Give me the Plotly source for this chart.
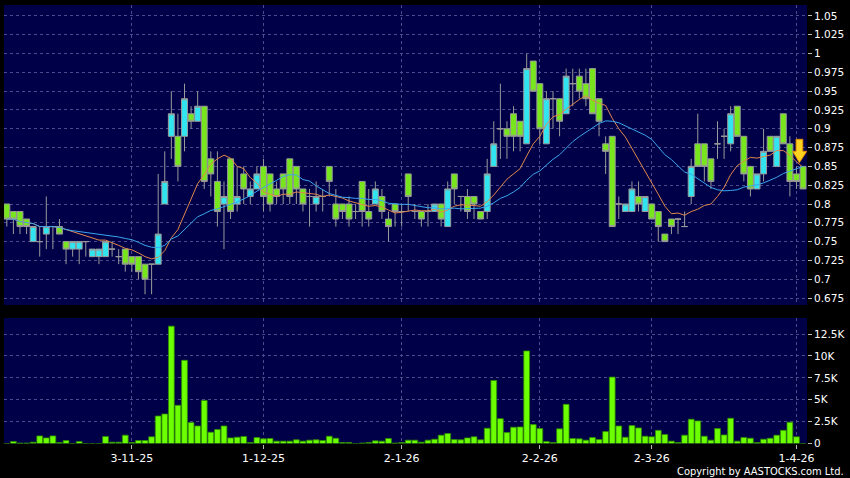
import pandas as pd
import plotly.graph_objects as go

# ---------------- data ----------------
holidays = ["2025-10-07", "2025-10-29", "2025-12-25", "2025-12-26", "2026-01-01",
            "2026-02-17", "2026-02-18", "2026-02-19"]
dates = [d.strftime("%Y-%m-%d") for d in pd.bdate_range("2025-10-03", "2026-04-02")
         if d.strftime("%Y-%m-%d") not in holidays]

opens = [
    0.80, 0.79, 0.79, 0.78, 0.75, 0.75, 0.76, 0.77, 0.77, 0.75,
    0.74, 0.74, 0.75, 0.73, 0.73, 0.73, 0.74, 0.73, 0.74, 0.73,
    0.73, 0.72, 0.72, 0.72, 0.80, 0.89, 0.89, 0.89, 0.92, 0.91,
    0.93, 0.86, 0.83, 0.80, 0.86, 0.80, 0.84, 0.81, 0.82, 0.85,
    0.84, 0.82, 0.84, 0.86, 0.85, 0.82, 0.81, 0.80, 0.81, 0.85,
    0.80, 0.80, 0.80, 0.79, 0.83, 0.79, 0.80, 0.81, 0.78, 0.80,
    0.79, 0.84, 0.79, 0.79, 0.79, 0.79, 0.80, 0.77, 0.84, 0.81,
    0.81, 0.81, 0.79, 0.79, 0.85, 0.90, 0.90, 0.92, 0.91, 0.88,
    0.99, 0.96, 0.88, 0.94, 0.94, 0.92, 0.96, 0.97, 0.96, 0.98,
    0.94, 0.88, 0.89, 0.80, 0.79, 0.79, 0.81, 0.79, 0.80, 0.79,
    0.76, 0.78, 0.78, 0.77, 0.81, 0.88, 0.88, 0.86, 0.88, 0.89,
    0.88, 0.93, 0.89, 0.85, 0.82, 0.84, 0.89, 0.85, 0.92, 0.88,
    0.84, 0.85]
highs = [
    0.80, 0.79, 0.79, 0.78, 0.77, 0.77, 0.81, 0.77, 0.78, 0.75,
    0.75, 0.75, 0.75, 0.74, 0.74, 0.75, 0.75, 0.74, 0.74, 0.73,
    0.73, 0.72, 0.72, 0.84, 0.87, 0.95, 0.92, 0.96, 0.93, 0.95,
    0.93, 0.87, 0.87, 0.83, 0.86, 0.85, 0.85, 0.83, 0.85, 0.86,
    0.84, 0.83, 0.84, 0.86, 0.85, 0.82, 0.82, 0.83, 0.82, 0.85,
    0.82, 0.80, 0.81, 0.80, 0.83, 0.82, 0.83, 0.82, 0.79, 0.80,
    0.80, 0.84, 0.80, 0.79, 0.80, 0.80, 0.80, 0.83, 0.84, 0.81,
    0.82, 0.81, 0.79, 0.86, 0.91, 0.96, 0.91, 0.93, 0.91, 1.00,
    0.99, 0.96, 0.95, 0.95, 0.94, 0.98, 0.98, 0.98, 0.98, 0.98,
    0.94, 0.89, 0.89, 0.81, 0.80, 0.83, 0.83, 0.81, 0.80, 0.79,
    0.76, 0.78, 0.78, 0.79, 0.86, 0.92, 0.88, 0.86, 0.91, 0.90,
    0.93, 0.93, 0.89, 0.85, 0.84, 0.90, 0.89, 0.89, 0.92, 0.89,
    0.85, 0.85]
lows = [
    0.77, 0.76, 0.76, 0.76, 0.75, 0.73, 0.74, 0.74, 0.76, 0.72,
    0.73, 0.72, 0.73, 0.73, 0.72, 0.73, 0.73, 0.72, 0.71, 0.71,
    0.70, 0.68, 0.68, 0.72, 0.80, 0.86, 0.83, 0.87, 0.90, 0.91,
    0.82, 0.81, 0.77, 0.74, 0.78, 0.79, 0.80, 0.80, 0.82, 0.79,
    0.79, 0.80, 0.80, 0.80, 0.80, 0.79, 0.77, 0.79, 0.79, 0.81,
    0.77, 0.78, 0.77, 0.78, 0.77, 0.77, 0.80, 0.78, 0.75, 0.77,
    0.77, 0.79, 0.78, 0.77, 0.77, 0.79, 0.77, 0.77, 0.80, 0.79,
    0.78, 0.78, 0.78, 0.78, 0.85, 0.86, 0.86, 0.87, 0.87, 0.88,
    0.95, 0.88, 0.88, 0.90, 0.89, 0.92, 0.93, 0.94, 0.93, 0.92,
    0.89, 0.84, 0.77, 0.78, 0.79, 0.79, 0.79, 0.79, 0.78, 0.75,
    0.75, 0.76, 0.76, 0.77, 0.80, 0.85, 0.83, 0.82, 0.86, 0.86,
    0.87, 0.89, 0.83, 0.81, 0.82, 0.83, 0.87, 0.85, 0.88, 0.81,
    0.82, 0.82]
closes = [
    0.78, 0.78, 0.77, 0.77, 0.77, 0.75, 0.77, 0.77, 0.76, 0.74,
    0.75, 0.75, 0.75, 0.74, 0.74, 0.75, 0.74, 0.73, 0.72, 0.72,
    0.71, 0.70, 0.72, 0.76, 0.83, 0.92, 0.85, 0.94, 0.91, 0.93,
    0.83, 0.84, 0.79, 0.81, 0.79, 0.81, 0.82, 0.82, 0.84, 0.81,
    0.80, 0.81, 0.82, 0.81, 0.82, 0.80, 0.81, 0.81, 0.81, 0.83,
    0.78, 0.79, 0.78, 0.79, 0.79, 0.78, 0.82, 0.79, 0.77, 0.79,
    0.79, 0.81, 0.79, 0.78, 0.79, 0.80, 0.78, 0.82, 0.82, 0.81,
    0.79, 0.80, 0.78, 0.84, 0.88, 0.90, 0.89, 0.89, 0.89, 0.98,
    0.95, 0.90, 0.94, 0.94, 0.91, 0.97, 0.96, 0.95, 0.94, 0.92,
    0.91, 0.87, 0.77, 0.80, 0.80, 0.82, 0.80, 0.81, 0.78, 0.77,
    0.75, 0.77, 0.78, 0.77, 0.85, 0.85, 0.85, 0.83, 0.88, 0.89,
    0.92, 0.89, 0.84, 0.82, 0.84, 0.87, 0.87, 0.89, 0.88, 0.83,
    0.83, 0.82]
volumes = [
    0, 230, 50, 50, 150, 870, 640, 870, 100, 340,
    0, 230, 0, 0, 0, 800, 150, 150, 950, 100,
    340, 340, 760, 3140, 3370, 13400, 4360, 9500, 2390, 2000,
    4920, 1290, 1600, 2000, 640, 720, 800, 100, 680, 530,
    570, 270, 270, 270, 420, 270, 380, 420, 340, 830,
    600, 100, 100, 0, 50, 100, 300, 270, 570, 50,
    100, 380, 380, 150, 380, 490, 950, 1140, 450, 420,
    640, 760, 420, 1740, 7200, 2840, 1250, 1860, 1890, 10570,
    2160, 1700, 230, 110, 1670, 4470, 570, 530, 380, 680,
    450, 1360, 7580, 2000, 720, 2050, 1780, 830, 760, 1500,
    1020, 270, 110, 950, 2770, 2580, 830, 380, 1700, 980,
    2880, 270, 680, 600, 110, 490, 600, 950, 1500, 2420,
    760, 0]

date_ticks = ["2025-11-03", "2025-12-01", "2026-01-02", "2026-02-02", "2026-03-02", "2026-04-01"]
date_labels = ["3-11-25", "1-12-25", "2-1-26", "2-2-26", "2-3-26", "1-4-26"]
price_ticks = [0.675, 0.7, 0.725, 0.75, 0.775, 0.8, 0.825, 0.85, 0.875, 0.9,
               0.925, 0.95, 0.975, 1.0, 1.025, 1.05]
price_labels = ["0.675", "0.7", "0.725", "0.75", "0.775", "0.8", "0.825", "0.85", "0.875", "0.9",
                "0.925", "0.95", "0.975", "1", "1.025", "1.05"]
vol_ticks = [0, 2500, 5000, 7500, 10000, 12500]
vol_labels = ["0", "2.5K", "5K", "7.5K", "10K", "12.5K"]

ma10 = pd.Series(closes).rolling(10, min_periods=1).mean().tolist()
ma20 = pd.Series(closes).rolling(20, min_periods=1).mean().tolist()

# ---------------- styling ----------------
BG = "#000048"
GRID = "#4c4c8c"
FONT = "DejaVu Sans"
W, H = 850, 478
xdom = [4 / W, 807 / W]
price_dom = [1 - 305 / H, 1 - 5 / H]
vol_dom = [1 - 443.5 / H, 1 - 318 / H]
n = len(dates)
xrange_ = [-0.43, n - 0.4]

fig = go.Figure()
fig.add_trace(go.Candlestick(
    x=dates, open=opens, high=highs, low=lows, close=closes,
    increasing=dict(fillcolor="#30e4f0", line=dict(color="#9a9a9a", width=1)),
    decreasing=dict(fillcolor="#78e61c", line=dict(color="#9a9a9a", width=1)),
    whiskerwidth=0, xaxis="x", yaxis="y", showlegend=False, hoverinfo="skip"))
fig.add_trace(go.Scatter(x=dates, y=ma10, mode="lines", line=dict(color="#e0884c", width=1),
                         xaxis="x", yaxis="y", showlegend=False, hoverinfo="skip"))
fig.add_trace(go.Scatter(x=dates, y=ma20, mode="lines", line=dict(color="#3aa6ee", width=1),
                         xaxis="x", yaxis="y", showlegend=False, hoverinfo="skip"))
fig.add_trace(go.Bar(x=dates, y=volumes, marker=dict(color="#6cff00", line=dict(color="#2f8a00", width=0.8)),
                     xaxis="x2", yaxis="y2", showlegend=False, hoverinfo="skip"))

xcommon = dict(type="category", range=xrange_, domain=xdom, tickvals=date_ticks,
               showgrid=True, gridcolor=GRID, griddash="3px,3px", gridwidth=1,
               zeroline=False, showline=False, automargin=False)
ycommon = dict(side="right", showgrid=True, gridcolor=GRID, griddash="3px,3px", gridwidth=1,
               zeroline=False, showline=False, ticks="outside", ticklen=4, tickcolor="#bbbbbb",
               automargin=False, tickfont=dict(family=FONT, size=10.5, color="#ffffff"))

fig.update_layout(
    width=W, height=H, margin=dict(l=0, r=0, t=0, b=0, pad=0, autoexpand=False),
    paper_bgcolor="#000000", plot_bgcolor=BG, showlegend=False,
    boxgap=0.1, boxgroupgap=0, bargap=0.12,
    xaxis=dict(**xcommon, anchor="y", showticklabels=False, ticks="", rangeslider=dict(visible=False)),
    xaxis2=dict(**xcommon, anchor="y2", ticktext=date_labels, ticks="outside", ticklen=4,
                tickcolor="#bbbbbb", tickfont=dict(family=FONT, size=11, color="#ffffff")),
    yaxis=dict(**ycommon, domain=price_dom, anchor="x", range=[0.6657, 1.0646],
               tickvals=price_ticks, ticktext=price_labels),
    yaxis2=dict(**ycommon, domain=vol_dom, anchor="x2", range=[0, 14330],
                tickvals=vol_ticks, ticktext=vol_labels),
    annotations=[dict(text="Copyright by AASTOCKS.com Ltd.", xref="paper", yref="paper",
                      x=846 / W, y=1 - 471.5 / H, xanchor="right", yanchor="middle", showarrow=False,
                      font=dict(family="DejaVu Sans Condensed, Liberation Sans Narrow, DejaVu Sans",
                                size=11, color="#ffffff"))],
    shapes=[dict(type="path", xref="x", yref="y",
                 path="M 119.94,0.886 L 120.96,0.886 L 120.96,0.870 L 121.56,0.870 "
                      "L 120.44,0.855 L 119.44,0.870 L 119.94,0.870 Z",
                 fillcolor="#ffd21f", line=dict(color="#e58e00", width=1))],
)

fig.write_html("out.html", config={"displayModeBar": False},
               post_script="document.body.style.margin='0';document.body.style.background='#000';"
                           "window.scrollTo(0,0);")
